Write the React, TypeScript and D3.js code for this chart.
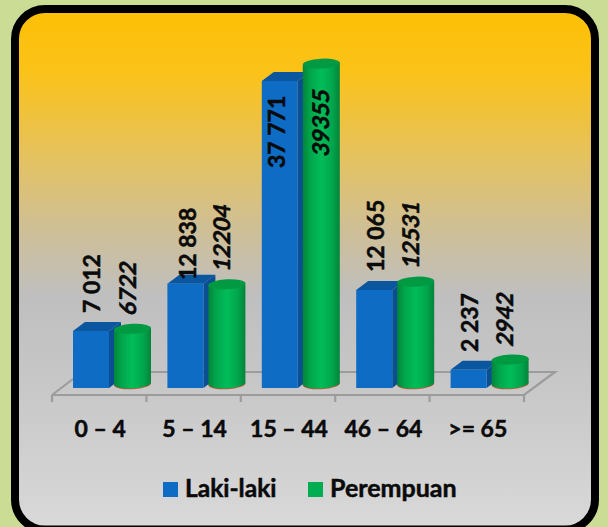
import React from "react";
import * as d3 from "d3";

const categories = ["0 – 4", "5 – 14", "15 – 44", "46 – 64", ">= 65"];
const lakiValues = [7012, 12838, 37771, 12065, 2237];
const perempuanValues = [6722, 12204, 39355, 12531, 2942];
const lakiLabels = ["7 012", "12 838", "37 771", "12 065", "2 237"];
const perempuanLabels = ["6722", "12204", "39355", "12531", "2942"];
const seriesNames = ["Laki-laki", "Perempuan"];

const lakiLabelBottom = [313, 280, 168, 272, 352];
const lakiLabelX = [92, 188, 277, 376, 470];
const perempuanLabelBottom = [316, 272, 157, 269, 347];
const perempuanLabelX = [128, 222, 321, 411, 505];

const FONT = "Lato, 'Open Sans', sans-serif";
const W = 608, H = 527;
const baseY = 388, cylBase = 383.5;

const x = d3.scaleBand<string>().domain(categories).range([52, 524]);
const y = d3.scaleLinear().domain([0, 37771]).range([0, 307]);

function Cylinder({ cx, top, rx }: { cx: number; top: number; rx: number }) {
  const ry = 5;
  const tilt = (cy: number) => `rotate(-3 ${cx} ${cy})`;
  return (
    <g>
      <ellipse cx={cx} cy={cylBase + 0.7} rx={rx} ry={ry} fill="#c9512f" transform={tilt(cylBase + 0.7)} />
      <ellipse cx={cx} cy={cylBase} rx={rx} ry={ry} fill="url(#cyl)" transform={tilt(cylBase)} />
      <path
        d={`M${cx - rx},${top + 1} L${cx + rx},${top - 1} L${cx + rx},${cylBase - 1} L${cx - rx},${cylBase + 1} Z`}
        fill="url(#cyl)"
      />
      <ellipse cx={cx} cy={top} rx={rx} ry={ry} fill="#019a42" transform={tilt(top)} />
    </g>
  );
}

function ValueLabel({ px, bottom, text, italic }: { px: number; bottom: number; text: string; italic?: boolean }) {
  return (
    <text
      transform={`translate(${px + 7.5},${bottom}) rotate(-90)${italic ? " skewX(-10)" : ""}`}
      fontFamily={FONT}
      fontSize={23}
      fontWeight={700}
      fill="#0a0a0a"
      stroke="#0a0a0a"
      strokeWidth={0.5}
    >
      {text}
    </text>
  );
}

function Bold({ x: tx, y: ty, size, anchor, children }: { x: number; y: number; size: number; anchor?: string; children: React.ReactNode }) {
  return (
    <text
      x={tx}
      y={ty}
      textAnchor={anchor ?? "start"}
      fontFamily={FONT}
      fontSize={size}
      fontWeight={700}
      fill="#0a0a0a"
      stroke="#0a0a0a"
      strokeWidth={0.5}
    >
      {children}
    </text>
  );
}

export default function App() {
  const bw = x.bandwidth();
  const ticks = [...categories.map((c) => x(c) as number), 524];
  return (
    <svg width={W} height={H} style={{ position: "absolute", left: 0, top: 0 }}>
      <defs>
        <linearGradient id="bg" x1="0" y1="0" x2="0" y2="1">
          <stop offset="0" stopColor="#fdc006" />
          <stop offset="0.12" stopColor="#fbc218" />
          <stop offset="0.3" stopColor="#e2c266" />
          <stop offset="0.42" stopColor="#cfbf95" />
          <stop offset="0.55" stopColor="#bfbfbf" />
          <stop offset="0.7" stopColor="#c6c6c6" />
          <stop offset="1" stopColor="#d9d9d9" />
        </linearGradient>
        <linearGradient id="cyl" x1="0" y1="0" x2="1" y2="0">
          <stop offset="0" stopColor="#04843a" />
          <stop offset="0.2" stopColor="#01a54c" />
          <stop offset="0.5" stopColor="#00bd58" />
          <stop offset="0.8" stopColor="#01a54c" />
          <stop offset="1" stopColor="#04843a" />
        </linearGradient>
      </defs>
      <rect width={W} height={H} fill="#cbdc94" />
      <rect x={15} y={9} width={580} height={520.5} rx={30} fill="url(#bg)" stroke="#000" strokeWidth={8} />

      <g stroke="#9c9c9c" strokeWidth={2.2} fill="none">
        <path d="M52,395 L73,379 M73,372 L555,372 L524,395 L52,395" />
        {ticks.map((t, i) => (
          <line key={i} x1={t} x2={t} y1={395} y2={402} />
        ))}
      </g>

      {categories.map((c, i) => {
        const x0 = x(c) as number;
        const bx = x0 + 21;
        const bWidth = 36;
        const topB = baseY - y(lakiValues[i]);
        const dx = 12, dy = 9;
        const topG = cylBase - y(perempuanValues[i]);
        return (
          <g key={c}>
            <path
              d={`M${bx + bWidth},${topB} L${bx + bWidth + dx},${topB - dy} L${bx + bWidth + dx},${baseY - dy} L${bx + bWidth},${baseY} Z`}
              fill="#0a4f91"
            />
            <path
              d={`M${bx},${topB} L${bx + dx},${topB - dy} L${bx + bWidth + dx},${topB - dy} L${bx + bWidth},${topB} Z`}
              fill="#0a569f"
            />
            <rect x={bx} y={topB} width={bWidth} height={baseY - topB} fill="#0f6cc4" />
            <Cylinder cx={x0 + 62 + 18.5} top={topG} rx={18.5} />
          </g>
        );
      })}

      {categories.map((c, i) => (
        <g key={c}>
          <ValueLabel px={lakiLabelX[i]} bottom={lakiLabelBottom[i]} text={lakiLabels[i]} />
          <ValueLabel px={perempuanLabelX[i]} bottom={perempuanLabelBottom[i]} text={perempuanLabels[i]} italic />
          <Bold x={(x(c) as number) + bw / 2 + 1} y={437} size={23} anchor="middle">{c}</Bold>
        </g>
      ))}

      <rect x={163} y={482} width={15} height={15} fill="#0f6cc4" />
      <Bold x={185} y={497} size={24.5}>{seriesNames[0]}</Bold>
      <rect x={308} y={482} width={15} height={15} fill="#00ad50" />
      <Bold x={330} y={497} size={25}>{seriesNames[1]}</Bold>
    </svg>
  );
}
